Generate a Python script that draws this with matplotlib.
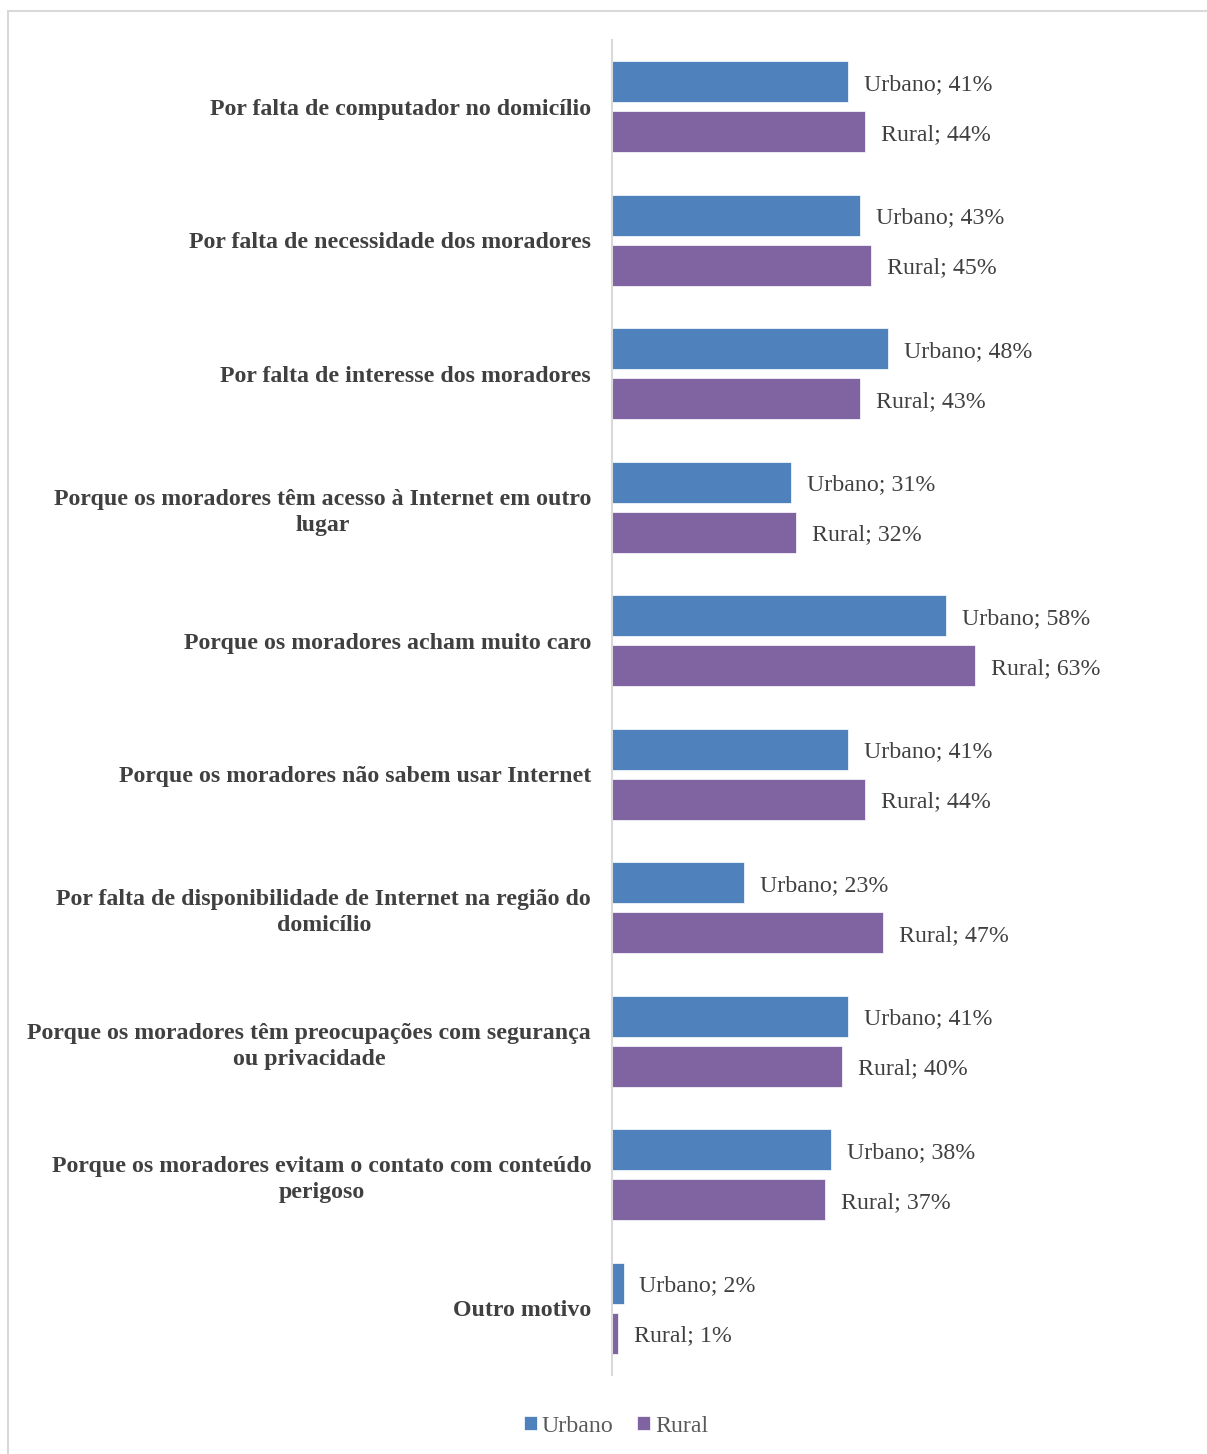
import matplotlib
matplotlib.use("Agg")
import matplotlib.pyplot as plt
from matplotlib.patches import Rectangle
import numpy as np

categories = [
    "Por falta de computador no domicílio",
    "Por falta de necessidade dos moradores",
    "Por falta de interesse dos moradores",
    "Porque os moradores têm acesso à Internet em outro\nlugar",
    "Porque os moradores acham muito caro",
    "Porque os moradores não sabem usar Internet",
    "Por falta de disponibilidade de Internet na região do\ndomicílio",
    "Porque os moradores têm preocupações com segurança\nou privacidade",
    "Porque os moradores evitam o contato com conteúdo\nperigoso",
    "Outro motivo",
]
urbano = [41, 43, 48, 31, 58, 41, 23, 41, 38, 2]
rural = [44, 45, 43, 32, 63, 44, 47, 40, 37, 1]
series_names = ["Urbano", "Rural"]

W, H = 1207, 1454
fig = plt.figure(figsize=(W / 100, H / 100), dpi=100)
plt.rcParams['font.family'] = ['Liberation Serif', 'DejaVu Serif']

# outer frame
fig.patches.append(Rectangle((8 / W, -0.01), 1.2, 1 - 11 / H + 0.01, transform=fig.transFigure,
                             fill=False, edgecolor="#d9d9d9", linewidth=1.5, zorder=0))

left, right = 612 / W, 1188 / W
bottom, top = 1 - 1375 / H, 1 - 40 / H
ax = fig.add_axes([left, bottom, right - left, top - bottom])

y = np.arange(len(categories))
h = 0.307
off = 0.187
blue = "#4F81BD"
purple = "#8064A2"
ax.barh(y - off, urbano, height=h, color=blue, edgecolor="white", linewidth=0.5, label=series_names[0])
ax.barh(y + off, rural, height=h, color=purple, edgecolor="white", linewidth=0.5, label=series_names[1])

ax.set_xlim(0, 100)
ax.set_ylim(len(categories) - 0.5, -0.5)

txtc = "#404040"
fs = 17.2
for i in range(len(categories)):
    ax.annotate(f"{series_names[0]}; {urbano[i]}%", (urbano[i], y[i] - off), xytext=(11.5, 0),
                textcoords="offset points", va="center_baseline", ha="left", fontsize=fs, color=txtc)
    ax.annotate(f"{series_names[1]}; {rural[i]}%", (rural[i], y[i] + off), xytext=(11.5, 0),
                textcoords="offset points", va="center_baseline", ha="left", fontsize=fs, color=txtc)

ax.set_yticks(y)
ax.set_yticklabels(categories, fontsize=fs, fontweight="bold", color=txtc, multialignment="center",
                   linespacing=1.3)
ax.tick_params(axis="y", length=0, pad=15)
ax.set_xticks([])
for s in ["top", "right", "bottom"]:
    ax.spines[s].set_visible(False)
ax.spines["left"].set_color("#d9d9d9")
ax.spines["left"].set_linewidth(1.5)

leg = fig.legend(loc="center", bbox_to_anchor=(616 / W, 1 - 1426 / H), ncol=2, frameon=False,
                 fontsize=fs, handlelength=0.55, handleheight=0.55, handletextpad=0.2, columnspacing=1.0)
for t in leg.get_texts():
    t.set_color("#595959")

fig.savefig("out.png", dpi=100)
